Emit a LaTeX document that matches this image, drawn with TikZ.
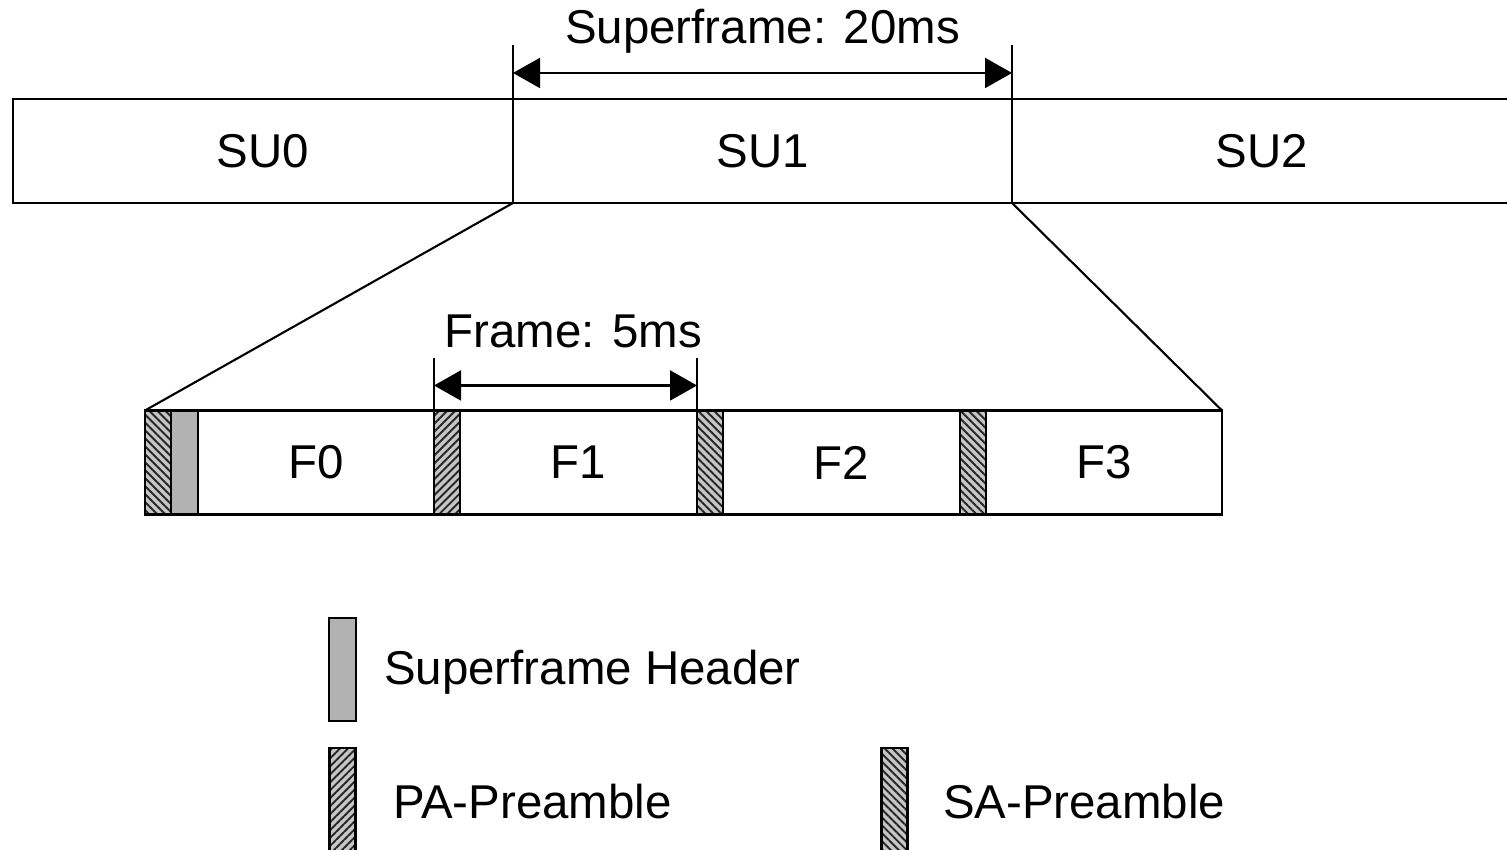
\documentclass[tikz,border=0pt]{standalone}
\usepackage{fontspec}
\setmainfont{Liberation Sans}
\usetikzlibrary{arrows.meta,patterns.meta,positioning}
\tikzstyle{cell} = [draw, rectangle, inner sep=0pt, outer sep=0pt,
    minimum height=1.04cm, font=\fontsize{13.5}{16}\selectfont]
\tikzstyle{hdr} = [cell, fill=gray!60, minimum width=0.27cm]
\tikzstyle{pa} = [cell, minimum width=0.26cm, preaction={fill=gray!45},
    pattern={Lines[angle=45,distance=1.6pt,line width=0.55pt]}, pattern color=black!85]
\tikzstyle{sa} = [pa, pattern={Lines[angle=-45,distance=1.6pt,line width=0.55pt]}]
\tikzstyle{txt} = [font=\fontsize{13.5}{16}\selectfont, inner sep=0pt]
\tikzstyle{dim} = [{Triangle[length=0.27cm,width=0.3cm]}-{Triangle[length=0.27cm,width=0.3cm]}]

\begin{document}
\begin{tikzpicture}[line width=0.6pt]
    \useasboundingbox (0,0) rectangle (15.07,8.5);
    % superframes
    \node [cell, minimum width=5cm] (su0) at (2.63,6.99) {SU0};
    \node [cell, minimum width=4.99cm, right=0pt of su0] (su1) {SU1};
    \node [cell, minimum width=5cm, right=0pt of su1] (su2) {SU2};
    % frames of SU1
    \node [sa] (pa0) at (1.58,3.875) {};
    \node [hdr, right=0pt of pa0] (sfh) {};
    \node [cell, minimum width=2.36cm, right=0pt of sfh] (f0) {F0};
    \node [pa, right=0pt of f0] (pa1) {};
    \node [cell, minimum width=2.37cm, right=0pt of pa1] (f1) {F1};
    \node [sa, right=0pt of f1] (pa2) {};
    \node [cell, minimum width=2.37cm, right=0pt of pa2] (f2) {F2};
    \node [sa, right=0pt of f2] (pa3) {};
    \node [cell, minimum width=2.36cm, right=0pt of pa3] (f3) {F3};
    % zoom lines
    \draw (su1.south west) -- (pa0.north west);
    \draw (su1.south east) -- (f3.north east);
    % superframe length
    \draw (su1.north west) -- ++(0,0.54) coordinate (sl);
    \draw (su1.north east) -- ++(0,0.54) coordinate (sr);
    \draw [dim] ([yshift=0.26cm]su1.north west) -- ([yshift=0.26cm]su1.north east)
        node [txt, midway, above=0.19cm] (sflen) {Superframe: 20ms};
    % frame length
    \draw (pa1.north west) -- ++(0,0.52) coordinate (fl);
    \draw (f1.north east) -- ++(0,0.52) coordinate (fr);
    \draw [dim] ([yshift=0.25cm]pa1.north west) -- ([yshift=0.25cm]f1.north east)
        node [txt, midway, above=0.36cm, xshift=0.08cm] (flen) {Frame: 5ms};
    % legend
    \node [hdr, minimum height=1.03cm] (khdr) at (3.425,1.805) {};
    \node [txt, anchor=west] (lhdr) at (3.83,1.78) {Superframe Header};
    \node [pa, minimum height=1.12cm] (kpa) at (3.425,0.46) {};
    \node [txt, anchor=west] (lpa) at (3.92,0.48) {PA-Preamble};
    \node [sa, minimum height=1.12cm] (ksa) at (8.945,0.46) {};
    \node [txt, anchor=west] (lsa) at (9.42,0.48) {SA-Preamble};
\end{tikzpicture}
\end{document}
